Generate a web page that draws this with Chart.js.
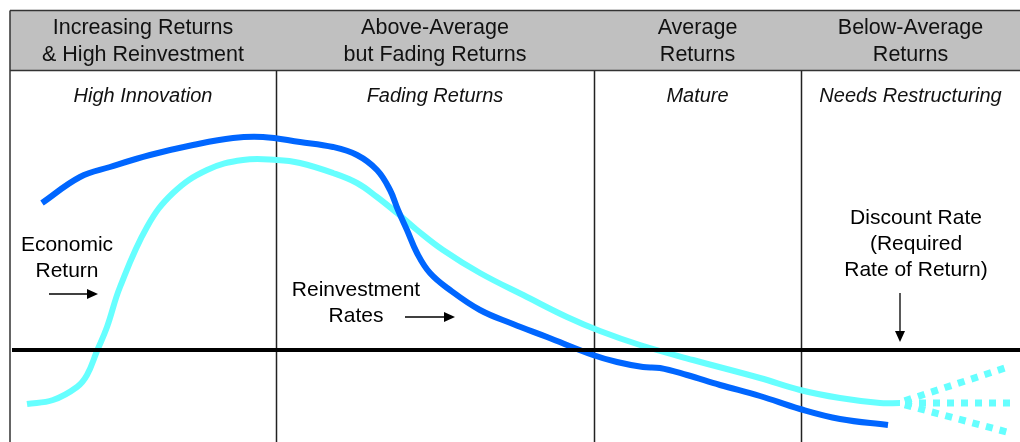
<!DOCTYPE html>
<html>
<head>
<meta charset="utf-8">
<script src="https://cdn.jsdelivr.net/npm/chart.js@4/dist/chart.umd.min.js"></script>
<style>
  html, body { margin: 0; padding: 0; background: #fff; }
  #lifecycle { display: block; }
</style>
</head>
<body>
<canvas id="lifecycle" width="1020" height="442"></canvas>
<script>
// stages of the life cycle (x = position along the cycle)
const stageBounds = [10, 276, 594, 801, 1020];
const stageTitles = [
    ['Increasing Returns', '& High Reinvestment'],
    ['Above-Average', 'but Fading Returns'],
    ['Average', 'Returns'],
    ['Below-Average', 'Returns']
];
const stageNames = ['High Innovation', 'Fading Returns', 'Mature', 'Needs Restructuring'];

// y = spread over the discount rate (0 = discount rate line)
const reinvestX = [42, 80, 110, 150, 193, 233, 263, 300, 333, 357, 377, 390, 398, 407, 417, 430, 450, 480, 513, 547, 593, 617, 643, 660, 687, 720, 760, 800, 840, 888];
const reinvestY = [147, 173, 183, 195, 205, 212, 213, 208, 203, 195, 180, 160, 140, 120, 97, 77, 60, 40, 26, 13, -5, -12, -17, -18, -25, -35, -46, -59, -69, -75];

const returnX = [27, 53, 77, 87, 97, 107, 120, 147, 173, 207, 243, 277, 300, 333, 357, 377, 397, 417, 443, 480, 527, 567, 600, 640, 693, 760, 800, 840, 880, 900];
const returnY = [-54, -50, -37, -25, -1, 23, 63, 123, 157, 180, 190, 190, 187, 177, 167, 153, 137, 120, 100, 77, 53, 33, 19, 5, -10, -28, -40, -48, -53, -53];

// possible paths after restructuring
const fadeStart = [898, -53];
const fadeEnds = [[1005, -18], [1010, -53], [1007, -82]];

const discountRate = 0;

const toPts = (xs, ys) => xs.map((x, i) => ({x: x, y: ys[i]}));

const graph = document.querySelector('#lifecycle');

const datasets = [
    {
        data: [{x: 12, y: discountRate}, {x: 1020, y: discountRate}],
        borderColor: '#000',
        borderWidth: 4
    },
    {
        data: toPts(reinvestX, reinvestY),
        borderColor: 'rgb(0, 102, 255)',
        borderWidth: 6,
        tension: 0.4
    },
    {
        data: toPts(returnX, returnY),
        borderColor: 'rgb(102, 255, 255)',
        borderWidth: 6,
        tension: 0.4
    }
];
fadeEnds.forEach(end => {
    datasets.push({
        data: [{x: fadeStart[0], y: fadeStart[1]}, {x: end[0], y: end[1]}],
        borderColor: 'rgb(102, 255, 255)',
        borderWidth: 7,
        borderDash: [7, 7],
        borderDashOffset: 7
    });
});

const font = 'Arial, "Liberation Sans", sans-serif';

function arrow(ctx, x1, y1, x2, y2) {
    const a = Math.atan2(y2 - y1, x2 - x1);
    ctx.beginPath();
    ctx.moveTo(x1, y1);
    ctx.lineTo(x2 - 9 * Math.cos(a), y2 - 9 * Math.sin(a));
    ctx.lineWidth = 1.3;
    ctx.stroke();
    ctx.beginPath();
    ctx.moveTo(x2, y2);
    ctx.lineTo(x2 - 11 * Math.cos(a) - 5 * Math.sin(a), y2 - 11 * Math.sin(a) + 5 * Math.cos(a));
    ctx.lineTo(x2 - 11 * Math.cos(a) + 5 * Math.sin(a), y2 - 11 * Math.sin(a) - 5 * Math.cos(a));
    ctx.closePath();
    ctx.fill();
}

const framePlugin = {
    id: 'frame',
    beforeDatasetsDraw(chart) {
        const ctx = chart.ctx;
        const x = chart.scales.x;
        const left = x.getPixelForValue(stageBounds[0]);
        const right = x.getPixelForValue(stageBounds[4]);
        ctx.save();
        // header band
        ctx.fillStyle = '#c0c0c0';
        ctx.fillRect(left, 10.5, right - left, 60);
        ctx.strokeStyle = '#333';
        ctx.lineWidth = 1.5;
        ctx.beginPath();
        ctx.moveTo(left, 10.5); ctx.lineTo(right, 10.5);
        ctx.moveTo(left, 70.5); ctx.lineTo(right, 70.5);
        ctx.moveTo(left, 10.5); ctx.lineTo(left, 442);
        ctx.stroke();
        // dividers
        ctx.strokeStyle = '#222';
        ctx.beginPath();
        for (let i = 1; i < 4; i++) {
            const px = Math.round(x.getPixelForValue(stageBounds[i])) + 0.5;
            ctx.moveTo(px, 71); ctx.lineTo(px, 442);
        }
        ctx.stroke();
        // titles
        ctx.fillStyle = '#111';
        ctx.textAlign = 'center';
        ctx.textBaseline = 'middle';
        for (let i = 0; i < 4; i++) {
            const cx = (x.getPixelForValue(stageBounds[i]) + x.getPixelForValue(stageBounds[i + 1])) / 2;
            ctx.font = '21.5px ' + font;
            ctx.fillText(stageTitles[i][0], cx, 28);
            ctx.fillText(stageTitles[i][1], cx, 55);
            ctx.font = 'italic 20px ' + font;
            ctx.fillText(stageNames[i], cx, 96);
        }
        ctx.restore();
    },
    afterDatasetsDraw(chart) {
        const ctx = chart.ctx;
        const x = chart.scales.x, y = chart.scales.y;
        const px = v => x.getPixelForValue(v), py = v => y.getPixelForValue(v);
        ctx.save();
        ctx.fillStyle = '#000';
        ctx.strokeStyle = '#000';
        ctx.font = '21px ' + font;
        ctx.textAlign = 'center';
        ctx.textBaseline = 'middle';
        ctx.fillText('Economic', px(67), py(105));
        ctx.fillText('Return', px(67), py(79));
        arrow(ctx, px(49), py(56), px(98), py(56));
        ctx.fillText('Reinvestment', px(356), py(60));
        ctx.fillText('Rates', px(356), py(34));
        arrow(ctx, px(405), py(33), px(455), py(33));
        ctx.fillText('Discount Rate', px(916), py(132));
        ctx.fillText('(Required', px(916), py(106));
        ctx.fillText('Rate of Return)', px(916), py(80));
        arrow(ctx, px(900), py(57), px(900), py(8));
        ctx.restore();
    }
};

new Chart(graph, {
    type: 'scatter',
    data: { datasets: datasets },
    options: {
        responsive: false,
        animation: false,
        layout: { padding: 0 },
        elements: { point: { radius: 0 } },
        datasets: { scatter: { showLine: true } },
        plugins: { legend: { display: false }, tooltip: { enabled: false } },
        scales: {
            x: { type: 'linear', min: 0, max: 1020, display: false },
            y: { type: 'linear', min: -92, max: 350, display: false }
        }
    },
    plugins: [framePlugin]
});
</script>
</body>
</html>
